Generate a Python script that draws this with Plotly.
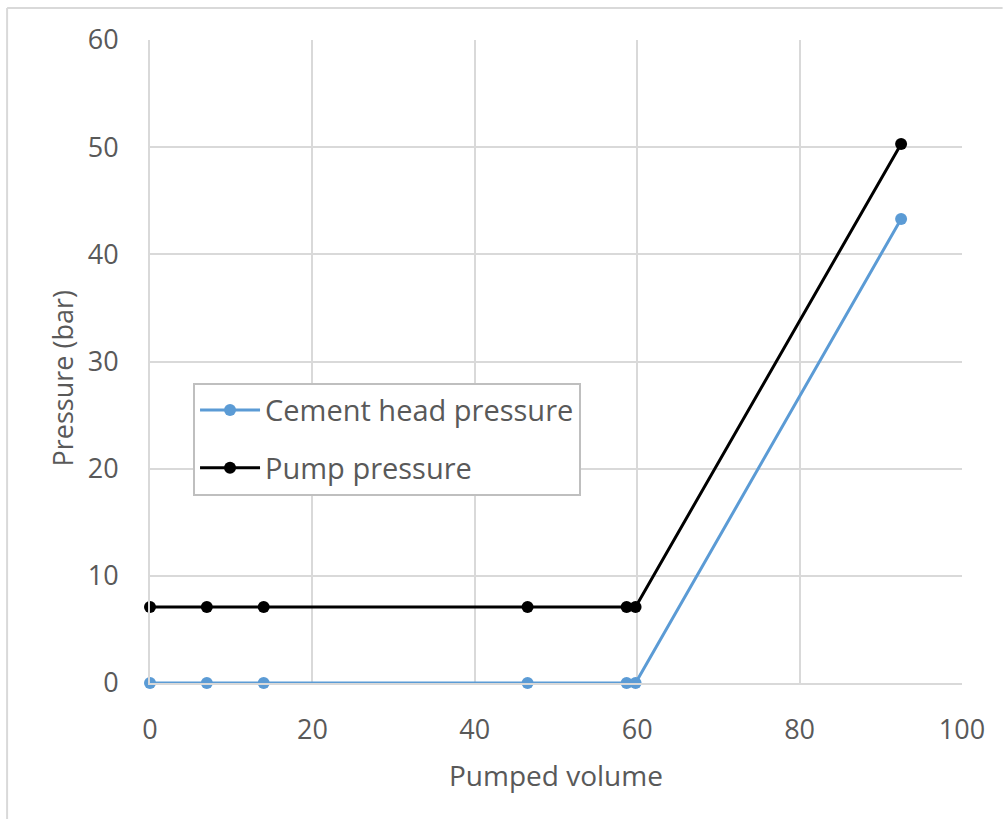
import plotly.graph_objects as go

# Pumped volume at each recorded step
pumped_volume = [0, 7, 14, 46.5, 58.7, 59.8, 92.5]
# Pressures (bar) at the same steps
cement_head_pressure = [0, 0, 0, 0, 0, 0, 43.3]
pump_pressure = [7.1, 7.1, 7.1, 7.1, 7.1, 7.1, 50.3]

x_ticks = [0, 20, 40, 60, 80, 100]
y_ticks = [0, 10, 20, 30, 40, 50, 60]

FONT = "Open Sans, DejaVu Sans, sans-serif"
TEXT = "#595959"
GRID = "#d9d9d9"

fig = go.Figure()
fig.add_trace(go.Scatter(
    x=pumped_volume, y=cement_head_pressure, mode="lines+markers",
    name="Cement head pressure", legendgroup="a",
    line=dict(color="#5b9bd5", width=3),
    marker=dict(color="#5b9bd5", size=12),
    cliponaxis=False,
))
fig.add_trace(go.Scatter(
    x=pumped_volume, y=pump_pressure, mode="lines+markers",
    name="Pump pressure", legendgroup="b",
    line=dict(color="#000000", width=3),
    marker=dict(color="#000000", size=12),
    cliponaxis=False,
))

fig.update_layout(
    width=1003, height=819,
    margin=dict(l=150, r=41, t=40, b=136),
    paper_bgcolor="white", plot_bgcolor="white",
    font=dict(family=FONT, size=26, color=TEXT),
    showlegend=True,
    legend=dict(
        x=0.053, y=0.467, xanchor="left", yanchor="top",
        bordercolor="#bfbfbf", borderwidth=2, bgcolor="white",
        font=dict(family=FONT, size=29, color=TEXT),
        tracegroupgap=17, traceorder="grouped",
        itemwidth=60,
    ),
    xaxis=dict(
        range=[0, 100], tickvals=x_ticks, ticks="", showgrid=True,
        gridcolor=GRID, gridwidth=1.5, zeroline=False,
        showline=True, linecolor=GRID, linewidth=2, mirror=False,
        tickfont=dict(size=27), ticklabelstandoff=22,
    ),
    yaxis=dict(
        range=[0, 60], tickvals=y_ticks, ticks="", showgrid=True,
        gridcolor=GRID, gridwidth=1.5, zeroline=False,
        showline=True, linecolor=GRID, linewidth=2,
        tickfont=dict(size=27), ticklabelstandoff=24,
    ),
    annotations=[
        dict(text="Pumped volume", xref="paper", yref="paper",
             x=0.5, y=-0.1431, xanchor="center", yanchor="middle",
             showarrow=False, font=dict(size=28, color=TEXT)),
        dict(text="Pressure (bar)", xref="paper", yref="paper",
             x=-0.108, y=0.474, xanchor="center", yanchor="middle",
             textangle=-90, showarrow=False, font=dict(size=27, color=TEXT)),
    ],
    shapes=[
        # outer frame: top and left edges
        dict(type="line", xref="paper", yref="paper",
             x0=-0.176, x1=1.05, y0=1.0498, y1=1.0498,
             line=dict(color="#d9d9d9", width=2)),
        dict(type="line", xref="paper", yref="paper",
             x0=-0.176, x1=-0.176, y0=1.0498, y1=-0.22,
             line=dict(color="#d9d9d9", width=2)),
    ],
)

fig.write_html("out.html")
